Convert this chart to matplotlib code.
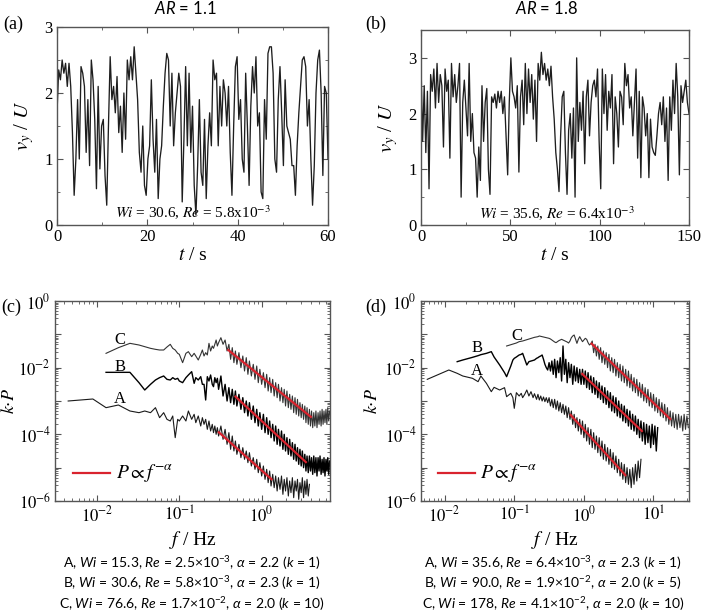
import numpy as np
import matplotlib.pyplot as plt
from matplotlib.ticker import MultipleLocator, LogLocator, FuncFormatter, NullFormatter

plt.rcParams['font.family'] = ['Liberation Serif', 'DejaVu Serif']
plt.rcParams['mathtext.fontset'] = 'stix'
plt.rcParams['mathtext.rm'] = 'Lato'
plt.rcParams['mathtext.it'] = 'Lato:italic'
plt.rcParams['mathtext.bf'] = 'Lato:bold'

# ---- time series, v_y/U (uniformly sampled over the record) ----
T_A = 60.0
vy_a = [1.7, 2.35, 2.2, 2.5, 2.3, 2.45, 2.1, 2.45, 2.1, 1.4, 0.45, 1.0, 1.9, 1.0, 2.4, 2.3, 2.1, 1.1, 1.9, 0.9,
        2.5, 2.2, 1.6, 0.55, 2.1, 0.85, 1.5, 1.6, 0.75, 0.3, 1.5, 2.55, 1.9, 2.1, 1.7, 2.25, 1.4, 1.8, 1.1, 2.0,
        1.3, 2.5, 2.2, 2.55, 2.2, 2.7, 2.3, 1.9, 1.1, 0.8, 1.5, 0.6, 0.45, 1.0, 1.2, 2.2, 1.3, 0.8, 1.6, 0.4,
        1.0, 1.2, 1.8, 2.3, 2.6, 2.5, 1.5, 2.3, 1.2, 1.7, 2.0, 2.3, 2.1, 0.35, 1.3, 2.4, 1.2, 2.3, 1.1, 1.8,
        0.6, 0.15, 0.9, 1.9, 0.8, 0.6, 1.6, 0.4, 1.2, 1.7, 1.2, 2.5, 2.2, 2.3, 1.2, 2.1, 1.5, 2.2, 2.0, 1.5,
        2.1, 1.1, 0.45, 1.5, 2.4, 2.55, 1.6, 1.9, 1.0, 0.8, 2.3, 1.5, 0.6, 1.8, 2.4, 2.0, 2.55, 1.5, 1.7, 0.5,
        0.4, 1.9, 1.3, 2.6, 2.7, 2.7, 2.3, 1.0, 0.8, 1.9, 2.4, 1.7, 0.9, 2.2, 1.5, 1.4, 1.3, 0.9, 0.9, 0.45,
        1.2, 1.7, 2.1, 2.5, 2.55, 2.4, 1.5, 1.9, 1.0, 0.3, 0.9, 2.0, 2.5, 2.65, 2.0, 0.75, 2.1, 2.0, 1.0]

T_B = 150.0
vy_b = [2.9, 1.5, 2.5, 1.3, 2.4, 0.65, 2.7, 2.4, 2.8, 2.1, 2.9, 2.2, 2.7, 2.5, 1.4, 2.8, 2.4, 2.6, 1.2, 2.9,
        2.3, 2.7, 2.2, 2.5, 2.9, 0.5, 2.2, 2.6, 2.1, 1.6, 2.9, 1.5, 2.0, 1.3, 1.2, 0.5, 1.4, 0.8, 2.5, 1.5,
        2.2, 2.45, 1.0, 0.55, 2.3, 2.2, 2.35, 2.1, 2.4, 2.2, 2.4, 2.0, 2.3, 1.6, 0.9, 2.2, 3.0, 2.4, 2.3, 2.1,
        2.5, 0.95, 2.3, 2.6, 1.8, 2.9, 2.0, 2.8, 2.2, 2.7, 1.9, 2.6, 1.5, 2.9, 2.6, 3.1, 2.7, 2.9, 2.6, 2.8,
        2.5, 2.85, 2.3, 1.9, 1.3, 1.0, 0.6, 1.6, 2.3, 2.4, 1.3, 0.55, 1.7, 2.0, 1.2, 2.1, 0.5, 3.0, 1.5, 2.2,
        1.7, 2.4, 1.1, 2.3, 2.6, 1.6, 2.2, 2.5, 2.6, 2.3, 2.8, 1.5, 0.65, 2.8, 2.0, 2.7, 1.7, 2.4, 2.1, 2.7,
        1.1, 2.3, 2.0, 1.4, 2.4, 2.3, 1.8, 2.9, 2.5, 2.7, 2.1, 2.3, 1.6, 2.2, 2.8, 1.2, 2.4, 0.85, 2.3, 2.1,
        1.6, 2.0, 0.85, 1.9, 1.4, 1.3, 1.25, 1.6, 2.0, 2.2, 1.8, 2.3, 1.5, 2.1, 0.8, 2.3, 1.7, 2.6, 2.0, 2.9,
        2.3, 0.9, 2.5, 2.2, 2.4, 2.6, 2.2, 2.0]

# ---- spectra, panel (c): log10 f [Hz] and log10 (k*P) ----
logf_c = [-2.35, -2.05, -1.89, -1.74, -1.60, -1.49, -1.42, -1.35, -1.29, -1.24, -1.19, -1.15, -1.11, -1.08,
          -1.05, -1.02, -1.00, -0.96, -0.92, -0.89, -0.85, -0.82, -0.80, -0.77, -0.74, -0.72, -0.70, -0.68,
          -0.66, -0.64, -0.62, -0.60, -0.585, -0.569, -0.553, -0.538, -0.523,
          -0.495, -0.469, -0.444, -0.420, -0.398, -0.377, -0.357, -0.337, -0.319, -0.301, -0.276, -0.252,
          -0.229, -0.208, -0.187, -0.167, -0.149, -0.125, -0.102, -0.081, -0.060, -0.041, -0.022, 0.0,
          0.021, 0.041, 0.061, 0.079, 0.097, 0.114, 0.134, 0.152, 0.170, 0.188, 0.204, 0.223, 0.241, 0.258,
          0.274, 0.290, 0.307, 0.324, 0.340, 0.356, 0.373, 0.389, 0.405, 0.420, 0.435, 0.450, 0.465, 0.480,
          0.494, 0.509, 0.524, 0.538, 0.551, 0.566, 0.580, 0.593, 0.606, 0.620, 0.633, 0.646, 0.659, 0.672,
          0.685, 0.697, 0.709, 0.722, 0.734, 0.746, 0.757, 0.769, 0.781, 0.792, 0.803, 0.814, 0.826]
kP_c_A = [-3.0, -2.94, -3.2, -3.12, -3.3, -3.35, -3.3, -3.35, -3.2, -3.5, -3.35, -3.55, -3.6, -3.45,
          -4.1, -3.55, -3.6, -3.45, -3.6, -3.3, -3.55, -3.4, -3.65, -3.45, -3.75, -3.5, -3.7, -3.55,
          -3.85, -3.6, -3.9, -3.7, -3.95, -3.75, -4.0, -3.8, -4.05,
          -3.75, -4.15, -3.85, -4.3, -3.95, -4.45, -4.05, -4.5, -4.2, -4.6, -4.3, -4.7, -4.4, -4.75,
          -4.5, -4.85, -4.55, -4.95, -4.7, -5.05, -4.75, -5.15, -4.85, -5.25, -4.95, -5.35, -5.05, -5.45,
          -5.1, -5.55, -5.2, -5.6, -5.25, -5.7, -5.3, -5.65, -5.25, -5.8, -5.35, -5.7, -5.3, -5.85,
          -5.4, -5.75, -5.3, -5.9, -5.4, -5.7, -5.35, -5.95, -5.45, -5.75, -5.3, -5.9, -5.4, -5.8,
          -5.35, -5.85, -5.5] + [None] * 20
kP_c_B = [None, None, -2.14, -2.14, -2.14, -2.45, -2.67, -2.5, -2.37, -2.3, -2.25, -2.35, -2.37, -2.3,
          -2.35, -2.32, -2.4, -2.45, -2.3, -2.22, -2.12, -2.47, -2.3, -2.37, -2.27, -2.5, -2.5, -2.97,
          -2.27, -2.4, -2.22, -2.5, -2.57, -2.3, -2.45, -2.32, -2.65,
          -2.25, -2.85, -2.5, -3.0, -2.6, -3.05, -2.65, -3.1, -2.7, -3.15, -2.8, -3.25, -2.9, -3.35,
          -3.0, -3.45, -3.05, -3.55, -3.15, -3.65, -3.25, -3.75, -3.35, -3.85, -3.4, -3.95, -3.5, -4.0,
          -3.6, -4.1, -3.7, -4.2, -3.75, -4.3, -3.85, -4.35, -3.9, -4.45, -4.0, -4.5, -4.1, -4.6,
          -4.15, -4.65, -4.25, -4.75, -4.3, -4.8, -4.4, -4.9, -4.45, -4.95, -4.5, -5.0, -4.6, -5.1,
          -4.65, -5.15, -4.65, -5.1, -4.7, -5.2, -4.65, -5.15, -4.7, -5.25, -4.7, -5.1, -4.65, -5.2,
          -4.75, -5.15, -4.7, -5.25, -4.75, -5.1, -4.7, -5.2, -4.8]
kP_c_C = [None, None, -1.57, -1.40, -1.27, -1.32, -1.37, -1.42, -1.45, -1.47, -1.47, -1.38, -1.30, -1.42,
          -1.47, -1.57, -1.6, -1.85, -1.57, -1.52, -1.67, -1.57, -1.65, -1.77, -1.6, -1.47, -1.65, -1.55,
          -1.62, -1.27, -1.5, -1.35, -1.42, -1.3, -1.17, -1.35, -1.25,
          -1.1, -1.3, -1.17, -1.5, -1.3, -1.75, -1.4, -1.85, -1.5, -1.9, -1.55, -2.0, -1.65, -2.1,
          -1.7, -2.2, -1.8, -2.25, -1.9, -2.35, -1.95, -2.45, -2.05, -2.5, -2.15, -2.6, -2.2, -2.7,
          -2.3, -2.75, -2.35, -2.85, -2.45, -2.9, -2.5, -3.0, -2.6, -3.05, -2.65, -3.15, -2.7, -3.2,
          -2.8, -3.25, -2.85, -3.35, -2.9, -3.4, -2.95, -3.45, -3.05, -3.5, -3.1, -3.55, -3.15, -3.65,
          -3.2, -3.7, -3.25, -3.75, -3.3, -3.8, -3.35, -3.75, -3.3, -3.8, -3.35, -3.7, -3.3, -3.75,
          -3.25, -3.7, -3.3, -3.65, -3.25, -3.7, -3.2, -3.6, -3.3]

# ---- spectra, panel (d) ----
logf_d = [-2.25, -1.94, -1.82, -1.74, -1.60, -1.52, -1.48, -1.40, -1.33, -1.29, -1.21, -1.14, -1.11, -1.05,
          -1.02, -1.00, -0.97, -0.93, -0.90, -0.88, -0.85, -0.82, -0.79, -0.76, -0.73, -0.71, -0.68, -0.66,
          -0.64, -0.62, -0.60, -0.58, -0.56, -0.54, -0.52,
          -0.50, -0.48, -0.46, -0.44, -0.42, -0.40, -0.38, -0.36, -0.34, -0.32, -0.30, -0.28, -0.26, -0.24,
          -0.22, -0.20, -0.18, -0.16, -0.14, -0.12, -0.10, -0.08, -0.06, -0.04, -0.02, 0.00, 0.02, 0.04,
          0.06, 0.08, 0.10, 0.12, 0.14, 0.16, 0.18, 0.20, 0.22, 0.24, 0.26, 0.28, 0.30, 0.32, 0.34, 0.36,
          0.38, 0.40, 0.42, 0.44, 0.46, 0.48, 0.50, 0.52, 0.54, 0.56, 0.58, 0.60, 0.62, 0.64, 0.66, 0.68,
          0.70, 0.72, 0.74, 0.76, 0.78, 0.80, 0.82, 0.84, 0.86, 0.88, 0.90, 0.92, 0.94, 0.96, 0.98, 1.00,
          1.02, 1.04, 1.06, 1.08, 1.10, 1.12, 1.14, 1.16, 1.18, 1.20, 1.22, 1.24, 1.26, 1.28, 1.30, 1.32,
          1.34, 1.36, 1.38, 1.40, 1.42, 1.44, 1.46, 1.48, 1.50]
kP_d_A = [-2.35, -2.07, -2.17, -2.25, -2.32, -2.42, -2.25, -2.47, -2.72, -2.59, -2.67, -2.6, -2.87, -2.77,
          -2.9, -3.22, -2.75, -2.85, -2.77, -2.9, -2.8, -2.67, -2.85, -2.72, -2.9, -2.78, -2.95, -2.8,
          -2.97, -2.85, -3.0, -2.88, -3.02, -2.9, -3.05,
          -2.9, -3.15, -2.95, -3.2, -2.95, -3.25, -3.0, -3.3, -3.05, -3.35, -3.1, -3.4, -3.15, -3.5,
          -3.2, -3.55, -3.3, -3.7, -3.4, -3.8, -3.5, -3.9, -3.55, -4.0, -3.6, -4.1, -3.7, -4.2,
          -3.8, -4.3, -3.85, -4.4, -3.95, -4.45, -4.05, -4.55, -4.1, -4.65, -4.2, -4.75, -4.3, -4.8,
          -4.4, -4.9, -4.45, -5.0, -4.55, -5.05, -4.65, -5.15, -4.75, -5.25, -4.85, -5.35, -4.9, -5.45,
          -5.0, -5.5, -5.05, -5.6, -5.0, -5.5, -4.9, -5.4, -4.8, -5.3, -4.75] + [None] * 34
kP_d_B = [None, None, -1.82, -1.77, -1.69, -1.64, -1.61, -1.57, -1.52, -1.68, -1.92, -2.15, -2.27, -1.95,
          -1.77, -1.72, -1.68, -1.62, -1.6, -1.57, -1.75, -1.92, -1.82, -1.8, -1.78, -1.77, -1.72, -1.7,
          -1.67, -1.65, -1.62, -1.75, -1.9, -2.0, -2.07,
          -1.85, -2.1, -1.8, -2.2, -1.75, -2.3, -1.8, -2.15, -1.7, -2.4, -1.35, -2.2, -1.75, -2.45,
          -1.85, -2.3, -1.9, -2.5, -1.95, -2.4, -2.0, -2.45, -2.05, -2.5, -2.05, -2.5, -2.1, -2.6,
          -2.15, -2.65, -2.25, -2.75, -2.3, -2.8, -2.4, -2.9, -2.45, -2.95, -2.55, -3.05, -2.6, -3.1,
          -2.7, -3.2, -2.75, -3.3, -2.85, -3.35, -2.9, -3.45, -3.0, -3.5, -3.1, -3.6, -3.15, -3.65,
          -3.25, -3.75, -3.3, -3.85, -3.4, -3.9, -3.45, -4.0, -3.55, -4.1, -3.6, -4.2, -3.65, -4.3,
          -3.7, -4.25, -3.75, -4.4, -3.7, -4.3, -3.75, -4.5, -3.8] + [None] * 22
kP_d_C = [None] * 12 + [-1.35, -1.31, -1.29, -1.28, -1.26, -1.22, -1.21, -1.20, -1.18, -1.16, -1.14, -1.12,
          -1.10, -1.09, -1.08, -1.07, -1.05, -1.06, -1.07, -1.08, -1.09, -1.10, -1.11,
          -1.12, -1.14, -1.17, -1.2, -1.23, -1.25, -1.22, -1.19, -1.17, -1.15, -1.17, -1.19, -1.21, -1.23,
          -1.26, -1.2, -1.1, -1.05, -1.02, -1.15, -1.27, -1.15, -1.07, -1.15, -1.22, -1.17, -1.12, -1.15,
          -1.25, -1.32, -1.28, -1.2, -1.55, -1.3, -1.65, -1.35, -1.75, -1.4, -1.85, -1.5, -1.9, -1.55,
          -2.0, -1.6, -2.1, -1.7, -2.15, -1.75, -2.25, -1.85, -2.3, -1.9, -2.4, -1.95, -2.45, -2.05,
          -2.55, -2.1, -2.6, -2.2, -2.7, -2.3, -2.75, -2.35, -2.85, -2.45, -2.9, -2.5, -3.0, -2.6,
          -3.05, -2.65, -3.15, -2.75, -3.2, -2.8, -3.3, -2.9, -3.35, -2.95, -3.45, -3.05, -3.5, -3.1,
          -3.6, -3.2, -3.7, -3.3, -3.75, -3.35, -3.8, -3.4, -3.85, -3.4, -3.8, -3.45, -3.9, -3.4,
          -3.85, -3.45, -3.8]

# power-law guides P ~ f^-alpha: start f, end f, k*P at start, alpha
fit_c = [(0.302, 1.32, 1.15e-4, 2.2), (0.482, 3.44, 1.35e-3, 2.3), (0.393, 3.96, 3.39e-2, 2.0)]
fit_d = [(0.646, 3.94, 3.8e-4, 2.3), (0.946, 6.81, 6.5e-3, 2.0), (1.29, 17.4, 5.25e-2, 2.0)]

captions_c = [r'A, $Wi$ = 15.3, $Re$ = 2.5$\times$10$^{-3}$, $\alpha$ = 2.2 ($k$ = 1)',
              r'B, $Wi$ = 30.6, $Re$ = 5.8$\times$10$^{-3}$, $\alpha$ = 2.3 ($k$ = 1)',
              r'C, $Wi$ = 76.6, $Re$ = 1.7$\times$10$^{-2}$, $\alpha$ = 2.0 ($k$ = 10)']
captions_d = [r'A, $Wi$ = 35.6, $Re$ = 6.4$\times$10$^{-3}$, $\alpha$ = 2.3 ($k$ = 1)',
              r'B, $Wi$ = 90.0, $Re$ = 1.9$\times$10$^{-2}$, $\alpha$ = 2.0 ($k$ = 5)',
              r'C, $Wi$ = 178, $Re$ = 4.1$\times$10$^{-2}$, $\alpha$ = 2.0 ($k$ = 10)']

FRAME = '#555555'


def style_axes(ax):
    for s in ax.spines.values():
        s.set_color(FRAME)
        s.set_linewidth(1.0)
    ax.tick_params(which='both', direction='in', top=True, right=True,
                   color=FRAME, labelsize=12, pad=3)
    ax.tick_params(which='major', length=4, width=0.8)
    ax.tick_params(which='minor', length=2, width=0.6)


def pow10(v, pos):
    return r'$10^{%d}$' % int(round(np.log10(v)))


def pow10_even(v, pos):
    e = int(round(np.log10(v)))
    return r'$10^{%d}$' % e if e % 2 == 0 else ''


fig = plt.figure(figsize=(7.02, 6.12), dpi=100)
W, H = 702.0, 612.0


def box(l, t, r, b):
    return [l / W, 1 - b / H, (r - l) / W, (b - t) / H]


ax_a = fig.add_axes(box(57, 27, 328, 225))
ax_b = fig.add_axes(box(421, 30, 689, 225))
ax_c = fig.add_axes(box(55, 301, 330, 501))
ax_d = fig.add_axes(box(421, 301, 689, 501))

# --- time series panels ---
for ax, vy, T, xmaj, xmin, ytop, txt, tx in [
        (ax_a, vy_a, T_A, 20, 10, 3.0, r'$Wi$ = 30.6, $Re$ = 5.8x10$^{-3}$', 30),
        (ax_b, vy_b, T_B, 50, 25, 3.5, r'$Wi$ = 35.6, $Re$ = 6.4x10$^{-3}$', 76)]:
    t = np.linspace(0, T, len(vy))
    ax.plot(t, vy, color='#1e1e1e', lw=0.95)
    ax.set_xlim(0, T)
    ax.set_ylim(0, ytop)
    ax.xaxis.set_major_locator(MultipleLocator(xmaj))
    ax.xaxis.set_minor_locator(MultipleLocator(xmin))
    ax.yaxis.set_major_locator(MultipleLocator(1))
    ax.yaxis.set_minor_locator(MultipleLocator(0.5))
    style_axes(ax)
    ax.set_xlabel(r'$t$ / s', fontsize=14, labelpad=1)
    ax.set_ylabel(r'$v_y$ / $U$', fontsize=15, labelpad=6)
    ax.text(tx, 0.04, txt, ha='center', va='bottom', fontsize=11)

# --- spectra panels ---
for ax, logf, curves, fits, xlim, labels, ylx in [
        (ax_c, logf_c, [kP_c_A, kP_c_B, kP_c_C], fit_c, (10 ** -2.51, 10 ** 0.83),
         [(-1.72, -2.94, 'A'), (-1.72, -1.98, 'B'), (-1.72, -1.17, 'C')], -0.135),
        (ax_d, logf_d, [kP_d_A, kP_d_B, kP_d_C], fit_d, (10 ** -2.34, 10 ** 1.51),
         [(-1.54, -2.10, 'A'), (-1.53, -1.41, 'B'), (-0.96, -1.05, 'C')], -0.15)]:
    f = 10 ** np.array(logf)
    styles = [('#1a1a1a', 0.8), ('#000000', 1.0), ('#333333', 0.8)]
    for vals, (c, lw) in zip(curves, styles):
        y = 10 ** np.array(vals, dtype=float)
        ax.plot(f, y, color=c, lw=lw)
    for f0, f1, p0, al in fits:
        ff = np.array([f0, f1])
        ax.plot(ff, p0 * (ff / f0) ** (-al), color='#d9232e', lw=1.6)
    for lx, ly, s in labels:
        ax.text(10 ** lx, 10 ** ly, s, ha='center', va='center', fontsize=12)
    ax.set_xscale('log')
    ax.set_yscale('log')
    ax.set_xlim(*xlim)
    ax.set_ylim(1e-6, 1)
    ax.xaxis.set_major_locator(LogLocator(base=10, numticks=20))
    ax.xaxis.set_minor_locator(LogLocator(base=10, subs=np.arange(2, 10), numticks=20))
    ax.xaxis.set_major_formatter(FuncFormatter(pow10))
    ax.xaxis.set_minor_formatter(NullFormatter())
    ax.yaxis.set_major_locator(LogLocator(base=10, numticks=20))
    ax.yaxis.set_minor_locator(LogLocator(base=10, subs=np.arange(2, 10), numticks=20))
    ax.yaxis.set_major_formatter(FuncFormatter(pow10_even))
    ax.yaxis.set_minor_formatter(NullFormatter())
    style_axes(ax)
    ax.set_xlabel(r'$f$ / Hz', fontsize=14, labelpad=3)
    ax.set_ylabel(r'$k{\cdot}P$', fontsize=13)
    ax.yaxis.set_label_coords(ylx, 0.5)
    # legend for the guide line
    ax.plot([0.065, 0.2], [0.14, 0.14], transform=ax.transAxes, color='#d9232e', lw=1.6)
    ax.text(0.22, 0.14, r'$P \propto f^{-\alpha}$', transform=ax.transAxes,
            ha='left', va='center', fontsize=14)

# panel letters and titles
for s, x, y in [('(a)', 13, 24), ('(b)', 376, 24), ('(c)', 11, 307), ('(d)', 376, 307)]:
    fig.text(x / W, 1 - y / H, s, ha='center', va='center', fontsize=13)
fig.text(185 / W, 1 - 8 / H, r'$AR$ = 1.1', ha='center', va='center', fontsize=12,
         family='Lato', math_fontfamily='custom')
fig.text(547 / W, 1 - 8 / H, r'$AR$ = 1.8', ha='center', va='center', fontsize=12,
         family='Lato', math_fontfamily='custom')

# captions
for caps, cx in [(captions_c, 192), (captions_d, 553)]:
    for i, s in enumerate(caps):
        fig.text(cx / W, 1 - (563 + 20.5 * i) / H, s, ha='center', va='center', fontsize=10,
                 family='Lato', math_fontfamily='custom')

fig.savefig('out.png', dpi=100)
